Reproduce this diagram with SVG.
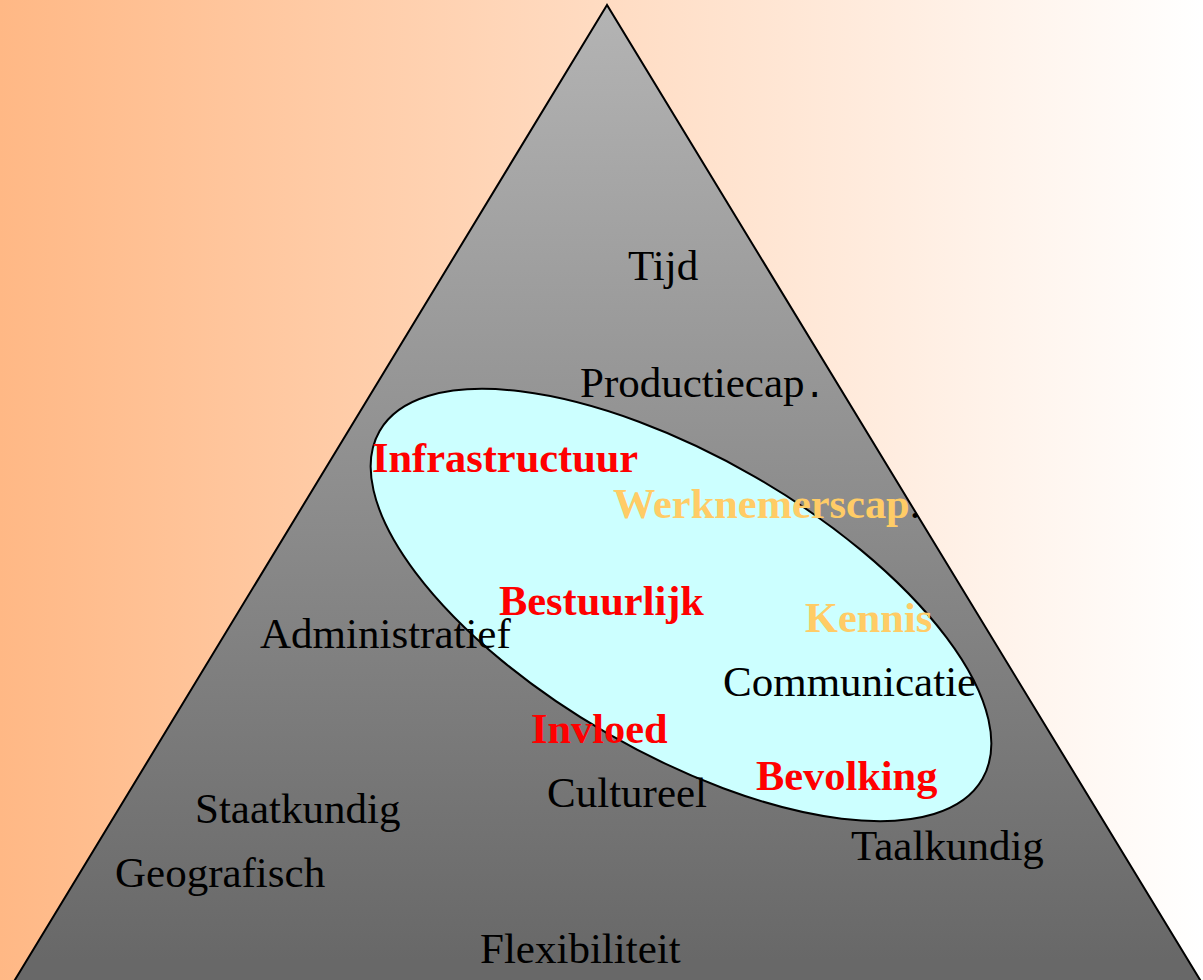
<svg xmlns="http://www.w3.org/2000/svg" width="1203" height="980" viewBox="0 0 1203 980">
<defs>
<linearGradient id="bg" x1="0" y1="0" x2="1203" y2="0" gradientUnits="userSpaceOnUse">
<stop offset="0" stop-color="#FFB885"/>
<stop offset="1" stop-color="#FFFFFF"/>
</linearGradient>
<linearGradient id="tri" x1="0" y1="5" x2="0" y2="960" gradientUnits="userSpaceOnUse">
<stop offset="0" stop-color="#B4B4B4"/>
<stop offset="1" stop-color="#686868"/>
</linearGradient>
<style>
.t{font-family:"Liberation Serif","Times New Roman",serif;font-size:43px;fill:#000}
.b{font-family:"Liberation Serif","Times New Roman",serif;font-size:42.4px;font-weight:bold}
.red{fill:#FF0000}
.org{fill:#FFCC66}
</style>
</defs>
<rect id="background" x="0" y="0" width="1203" height="980" fill="url(#bg)"/>
<g id="pyramid">
<polygon points="607,5 10,988 1205,988" fill="url(#tri)" stroke="#000" stroke-width="2"/>
</g>
<g id="oval">
<ellipse cx="681" cy="605" rx="348" ry="148" transform="rotate(30 681 605)" fill="#CCFFFF" stroke="#000" stroke-width="2"/>
</g>
<g id="connectors"></g>
<g id="labels">
<text id="tijd" class="t" x="628" y="280">Tijd</text>
<text id="productiecap" class="t" x="580" y="397">Productiecap<tspan font-family="DejaVu Sans Mono, monospace" font-size="34">.</tspan></text>
<text id="infrastructuur" class="b red" x="372" y="472">Infrastructuur</text>
<text id="werknemerscap" class="b org" x="613" y="518">Werknemerscap<tspan fill="#000" font-weight="normal">.</tspan></text>
<text id="bestuurlijk" class="b red" x="499" y="615">Bestuurlijk</text>
<text id="kennis" class="b org" x="805" y="632">Kennis</text>
<text id="administratief" class="t" x="260" y="648">Administratief</text>
<text id="communicatie" class="t" x="723" y="696">Communicatie</text>
<text id="invloed" class="b red" x="531" y="743">Invloed</text>
<text id="bevolking" class="b red" x="756" y="790">Bevolking</text>
<text id="cultureel" class="t" x="547" y="807">Cultureel</text>
<text id="staatkundig" class="t" x="195" y="823">Staatkundig</text>
<text id="taalkundig" class="t" x="851" y="860">Taalkundig</text>
<text id="geografisch" class="t" x="115" y="887">Geografisch</text>
<text id="flexibiliteit" class="t" x="480" y="963">Flexibiliteit</text>
</g>
</svg>
